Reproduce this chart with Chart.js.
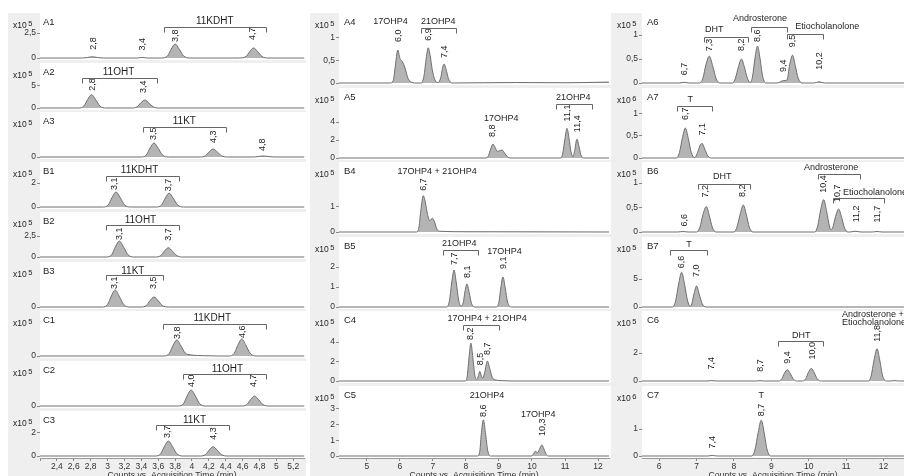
<!DOCTYPE html>
<html>
<head>
<meta charset="utf-8">
<script src="https://cdn.jsdelivr.net/npm/chart.js@4"></script>
<style>
  body { margin: 0; width: 904px; height: 476px; overflow: hidden; background: #fff; position: relative; }
  .col { position: absolute; top: 13px; height: 463px; background: #efefef; }
  canvas { position: absolute; }
</style>
</head>
<body>
<div class="col" style="left:8px;width:298px"></div>
<div class="col" style="left:310px;width:302px"></div>
<div class="col" style="left:612px;width:292px"></div>
<script>
// x axis ticks (retention time, min)
const col1XTicks = [2.2, 2.4, 2.6, 2.8, 3, 3.2, 3.4, 3.6, 3.8, 4, 4.2, 4.4, 4.6, 4.8, 5, 5.2];
const col1XLabels = ['', '2,4', '2,6', '2,8', '3', '3,2', '3,4', '3,6', '3,8', '4', '4,2', '4,4', '4,6', '4,8', '5', '5,2'];
const col2XTicks = [5, 6, 7, 8, 9, 10, 11, 12];
const col2XLabels = ['5', '6', '7', '8', '9', '10', '11', '12'];
const col3XTicks = [6, 7, 8, 9, 10, 11, 12];
const col3XLabels = ['6', '7', '8', '9', '10', '11', '12'];

// chromatogram traces: [time, counts] (counts in x10^5, x10^6 for A7 / C7)
const A1 = [[2.2,0],[2.7,0],[2.76,0.05],[2.82,0.12],[2.88,0.05],[2.95,0],[3.35,0],[3.41,0.06],[3.47,0],
  [3.64,0],[3.71,0.2],[3.755,0.9],[3.8,1.4],[3.85,0.87],[3.9,0.22],[3.97,0],
  [4.56,0],[4.64,0.15],[4.685,0.65],[4.73,1.0],[4.78,0.62],[4.83,0.15],[4.9,0],[5.33,0]];
const A2 = [[2.2,0],[2.66,0],[2.72,0.45],[2.765,1.95],[2.81,3.0],[2.86,1.86],[2.91,0.45],[2.98,0],
  [3.29,0],[3.35,0.27],[3.395,1.17],[3.44,1.8],[3.49,1.1],[3.54,0.27],[3.61,0],[5.33,0]];
const A3 = [[2.2,0],[3.4,0],[3.46,0.21],[3.505,0.91],[3.55,1.4],[3.6,0.87],[3.65,0.21],[3.72,0],
  [4.1,0],[4.16,0.12],[4.205,0.52],[4.25,0.8],[4.3,0.5],[4.35,0.12],[4.42,0],
  [4.74,0],[4.8,0.07],[4.84,0.1],[4.9,0.06],[4.97,0],[5.33,0]];
const B1 = [[2.2,0],[2.95,0],[3.01,0.19],[3.055,0.81],[3.1,1.25],[3.15,0.78],[3.2,0.19],[3.27,0],
  [3.58,0],[3.64,0.17],[3.685,0.75],[3.73,1.15],[3.78,0.71],[3.83,0.17],[3.9,0],[5.33,0]];
const B2 = [[2.2,0],[2.99,0],[3.05,0.29],[3.095,1.24],[3.14,1.9],[3.19,1.18],[3.24,0.29],[3.31,0],
  [3.57,0],[3.63,0.17],[3.675,0.72],[3.72,1.1],[3.77,0.68],[3.82,0.17],[3.89,0],[5.33,0]];
const B3 = [[2.2,0],[2.94,0],[3.0,0.26],[3.045,1.1],[3.09,1.7],[3.14,1.05],[3.19,0.26],[3.26,0],
  [3.4,0],[3.46,0.15],[3.505,0.65],[3.55,1.0],[3.6,0.62],[3.65,0.15],[3.72,0],[5.33,0]];
const C1 = [[2.2,0],[3.67,0],[3.73,0.24],[3.775,1.04],[3.82,1.6],[3.87,1.0],[3.92,0.3],[3.98,0.12],[4.15,0.03],[4.3,0],
  [4.44,0],[4.5,0.26],[4.545,1.1],[4.59,1.7],[4.64,1.05],[4.69,0.26],[4.76,0],[5.33,0]];
const C2 = [[2.2,0],[3.84,0],[3.9,0.24],[3.945,1.04],[3.99,1.6],[4.04,1.0],[4.09,0.24],[4.16,0],
  [4.59,0],[4.65,0.15],[4.695,0.65],[4.74,1.0],[4.79,0.62],[4.84,0.15],[4.91,0],[5.33,0]];
const C3 = [[2.2,0],[3.57,0],[3.63,0.2],[3.675,0.85],[3.72,1.3],[3.77,0.8],[3.82,0.2],[3.89,0],
  [4.1,0],[4.16,0.12],[4.205,0.52],[4.25,0.8],[4.3,0.5],[4.35,0.12],[4.42,0],[5.33,0]];

const A4 = [[4.16,0],[5.7,0],[5.8,0.05],[5.86,0.35],[5.94,0.73],[6.0,0.55],[6.08,0.47],[6.15,0.35],[6.25,0.1],[6.35,0.02],[6.45,0],
  [6.65,0],[6.73,0.15],[6.8,0.55],[6.86,0.78],[6.92,0.6],[6.98,0.3],[7.06,0.07],[7.15,0.01],
  [7.24,0.12],[7.29,0.32],[7.34,0.42],[7.4,0.3],[7.47,0.1],[7.58,0],[9.5,0.01],[11,0.005],[12.33,0.02]];
const A5 = [[4.16,0],[8.6,0],[8.68,0.25],[8.75,1.0],[8.82,1.55],[8.88,1.2],[8.95,0.75],[9.02,0.8],[9.09,0.9],[9.16,0.6],[9.25,0.15],[9.36,0],
  [10.86,0],[10.93,0.5],[11.0,2.2],[11.06,3.3],[11.12,2.2],[11.18,0.7],[11.24,0.12],
  [11.29,0.8],[11.36,2.1],[11.42,1.3],[11.48,0.35],[11.56,0],[12.33,0]];
const B4 = [[4.16,0],[6.5,0],[6.58,0.2],[6.64,0.9],[6.71,1.45],[6.77,1.2],[6.84,0.7],[6.91,0.45],[6.98,0.55],[7.04,0.45],[7.12,0.12],[7.22,0.03],[8,0.01],[12.33,0]];
const B5 = [[4.16,0],[7.42,0],[7.5,0.3],[7.57,1.2],[7.64,1.85],[7.71,1.2],[7.78,0.35],[7.85,0.05],
  [7.92,0.22],[7.97,0.75],[8.03,1.15],[8.1,0.72],[8.17,0.18],[8.27,0],
  [8.92,0],[9.0,0.25],[9.06,1.0],[9.12,1.5],[9.19,0.95],[9.26,0.25],[9.37,0],[12.33,0]];
const C4 = [[4.16,0],[7.98,0],[8.04,0.5],[8.1,2.6],[8.15,3.9],[8.21,2.4],[8.27,0.6],[8.33,0.15],[8.38,0.55],[8.42,1.0],[8.46,0.6],[8.51,0.3],
  [8.57,0.9],[8.65,2.05],[8.72,1.3],[8.8,0.35],[8.9,0.1],[9.1,0.03],[9.4,0],[12.33,0]];
const C5 = [[4.16,0],[8.35,0],[8.42,0.3],[8.47,1.5],[8.53,2.3],[8.59,1.5],[8.66,0.35],[8.75,0],
  [9.98,0],[10.05,0.15],[10.1,0.3],[10.17,0.22],[10.24,0.5],[10.3,0.7],[10.36,0.45],[10.43,0.1],[10.5,0],[12.33,0]];

const A6 = [[5.54,0],[6.55,0],[6.67,0.015],[6.8,0],[7.08,0],[7.17,0.1],[7.25,0.38],[7.34,0.56],[7.43,0.36],[7.52,0.1],[7.62,0],
  [7.96,0],[8.04,0.1],[8.12,0.34],[8.2,0.5],[8.28,0.33],[8.36,0.1],[8.44,0.01],
  [8.5,0.15],[8.56,0.5],[8.63,0.77],[8.7,0.5],[8.77,0.13],[8.86,0],[9.15,0],[9.33,0.05],[9.42,0.06],
  [9.49,0.38],[9.57,0.58],[9.64,0.36],[9.72,0.1],[9.82,0],[10.15,0],[10.28,0.025],[10.42,0],[12.55,0]];
const A7 = [[5.54,0],[6.46,0],[6.54,0.12],[6.62,0.45],[6.7,0.68],[6.78,0.44],[6.86,0.12],[6.95,0.01],
  [7.05,0.18],[7.1,0.3],[7.15,0.33],[7.22,0.2],[7.3,0.05],[7.4,0],[12.55,0]];
const B6 = [[5.54,0],[6.5,0],[6.63,0.01],[6.78,0],[7.0,0],[7.09,0.1],[7.17,0.35],[7.26,0.52],[7.34,0.34],[7.42,0.1],[7.52,0],
  [8.0,0],[8.08,0.1],[8.17,0.37],[8.25,0.55],[8.33,0.36],[8.41,0.1],[8.51,0],
  [10.16,0],[10.24,0.12],[10.32,0.45],[10.4,0.66],[10.48,0.42],[10.56,0.1],[10.6,0.05],
  [10.64,0.08],[10.72,0.32],[10.8,0.47],[10.88,0.3],[10.96,0.08],[11.05,0],
  [11.1,0],[11.25,0.015],[11.4,0],[11.7,0],[11.83,0.01],[11.96,0],[12.55,0]];
const B7 = [[5.54,0],[6.36,0],[6.44,1.1],[6.52,4.1],[6.6,6.2],[6.68,4.0],[6.76,1.1],[6.83,0.15],
  [6.86,0.3],[6.93,2.3],[7.0,3.75],[7.07,2.3],[7.15,0.6],[7.25,0],[12.55,0]];
const C6 = [[5.54,0],[7.28,0],[7.4,0.03],[7.54,0],[8.6,0],[8.7,0.02],[8.82,0],
  [9.2,0],[9.28,0.15],[9.35,0.55],[9.43,0.8],[9.51,0.52],[9.59,0.13],[9.7,0],
  [9.84,0],[9.92,0.16],[9.99,0.6],[10.07,0.9],[10.15,0.58],[10.23,0.15],[10.34,0],
  [11.6,0],[11.67,0.35],[11.75,1.5],[11.83,2.3],[11.9,1.5],[11.98,0.35],[12.08,0],[12.2,0],[12.3,0.03],[12.4,0],[12.55,0]];
const C7 = [[5.54,0],[7.3,0],[7.42,0.02],[7.55,0],[8.48,0],[8.56,0.22],[8.65,0.88],[8.73,1.33],[8.81,0.85],[8.89,0.22],[8.99,0],[12.55,0]];

// y axis tick values
const A1_yTicks = [0, 2.5], A2_yTicks = [0, 5], A3_yTicks = [0];
const B1_yTicks = [0, 2], B2_yTicks = [0, 2.5], B3_yTicks = [0];
const C1_yTicks = [0], C2_yTicks = [0], C3_yTicks = [0, 2];
const A4_yTicks = [0, 0.5, 1], A5_yTicks = [0, 2, 4], B4_yTicks = [0, 1];
const B5_yTicks = [0, 1, 2], C4_yTicks = [0, 2, 4], C5_yTicks = [0, 1, 2, 3];
const A6_yTicks = [0, 0.5, 1], A7_yTicks = [0, 0.5, 1], B6_yTicks = [0, 0.5, 1];
const B7_yTicks = [0, 5], C6_yTicks = [0, 2], C7_yTicks = [0, 1];

// peak labels: [text, retention time]
const A1_peaks = [['2,8', 2.83], ['3,4', 3.41], ['3,8', 3.8], ['4,7', 4.72]];
const A2_peaks = [['2,8', 2.82], ['3,4', 3.43]];
const A3_peaks = [['3,5', 3.55], ['4,3', 4.25], ['4,8', 4.84]];
const B1_peaks = [['3,1', 3.08], ['3,7', 3.72]];
const B2_peaks = [['3,1', 3.14], ['3,7', 3.72]];
const B3_peaks = [['3,1', 3.08], ['3,5', 3.54]];
const C1_peaks = [['3,8', 3.83], ['4,6', 4.6]];
const C2_peaks = [['4,0', 3.99], ['4,7', 4.73]];
const C3_peaks = [['3,7', 3.71], ['4,3', 4.26]];
const A4_peaks = [['6,0', 5.97], ['6,9', 6.87], ['7,4', 7.34]];
const A5_peaks = [['8,8', 8.8], ['11,1', 11.06], ['11,4', 11.37]];
const B4_peaks = [['6,7', 6.71]];
const B5_peaks = [['7,7', 7.65], ['8,1', 8.06], ['9,1', 9.13]];
const C4_peaks = [['8,2', 8.15], ['8,5', 8.43], ['8,7', 8.66]];
const C5_peaks = [['8,6', 8.53], ['10,3', 10.31]];
const A6_peaks = [['6,7', 6.67], ['7,3', 7.34], ['8,2', 8.2], ['8,6', 8.63], ['9,4', 9.33], ['9,5', 9.58], ['10,2', 10.3]];
const A7_peaks = [['6,7', 6.7], ['7,1', 7.17]];
const B6_peaks = [['6,6', 6.67], ['7,2', 7.23], ['8,2', 8.24], ['10,4', 10.39], ['10,7', 10.76], ['11,2', 11.27], ['11,7', 11.83]];
const B7_peaks = [['6,6', 6.6], ['7,0', 7.0]];
const C6_peaks = [['7,4', 7.39], ['8,7', 8.7], ['9,4', 9.42], ['10,0', 10.09], ['11,8', 11.83]];
const C7_peaks = [['7,4', 7.42], ['8,7', 8.73]];

// compound groups: [name, label time, bracket from, bracket to]
const A1_groups = [['11KDHT', 4.27, 3.67, 4.88]];
const A2_groups = [['11OHT', 3.13, 2.7, 3.58]];
const A3_groups = [['11KT', 3.91, 3.42, 4.4]];
const B1_groups = [['11KDHT', 3.38, 2.98, 3.85]];
const B2_groups = [['11OHT', 3.39, 2.98, 3.85]];
const B3_groups = [['11KT', 3.3, 2.98, 3.66]];
const C1_groups = [['11KDHT', 4.24, 3.66, 4.88]];
const C2_groups = [['11OHT', 4.42, 3.89, 4.88]];
const C3_groups = [['11KT', 4.03, 3.57, 4.44]];
const A4_groups = [['17OHP4', 5.72, null, null], ['21OHP4', 7.16, 6.65, 7.7]];
const A5_groups = [['21OHP4', 11.25, 10.74, 11.83], ['17OHP4', 9.07, null, null]];
const B4_groups = [['17OHP4 + 21OHP4', 7.13, null, null]];
const B5_groups = [['21OHP4', 7.8, 7.3, 8.37], ['17OHP4', 9.17, null, null]];
const C4_groups = [['17OHP4 + 21OHP4', 8.64, 7.92, 9.0]];
const C5_groups = [['21OHP4', 8.64, null, null], ['17OHP4', 10.19, null, null]];
const A6_groups = [['DHT', 7.47, 7.2, 8.38], ['Androsterone', 8.7, 8.46, 9.43], ['Etiocholanolone', 9.64, 9.43, 10.37]];
const A7_groups = [['T', 6.83, 6.48, 7.42]];
const B6_groups = [['DHT', 7.69, 7.05, 8.43], ['Androsterone', 10.6, 10.26, 11.38], ['Etiocholanolone', 10.92, 10.65, 12.02]];
const B7_groups = [['T', 6.8, 6.3, 7.28]];
const C6_groups = [['DHT', 9.8, 9.18, 10.38], ['Androsterone +\nEtiocholanolone', 10.89, null, null]];
const C7_groups = [['T', 8.73, null, null]];

const FONT = '"Liberation Sans", Arial, sans-serif';
Chart.defaults.font.family = FONT;

// layout of the three columns of stacked panels
const columns = [
  { left: 8, width: 298, axisW: 32, padR: 2, xMin: 2.2, xMax: 5.327, plotH: 45, groupFont: 10, idDx: 3,
    xTicks: col1XTicks, xLabels: col1XLabels,
    panels: [
      { id: 'A1', top: 13, data: A1, yMax: 4.5, yTicks: A1_yTicks, exp: '5', peaks: A1_peaks, gaps: [7, 7, 2, 8], groups: A1_groups, groupY: [[8, 14]] },
      { id: 'A2', top: 63, data: A2, yMax: 10.2, yTicks: A2_yTicks, exp: '5', peaks: A2_peaks, gaps: [4, 7], groups: A2_groups, groupY: [[9, 15]] },
      { id: 'A3', top: 112, data: A3, yMax: 4.5, yTicks: A3_yTicks, exp: '5', peaks: A3_peaks, gaps: [3, 6, 5], groups: A3_groups, groupY: [[9, 15]] },
      { id: 'B1', top: 162, data: B1, yMax: 3.75, yTicks: B1_yTicks, exp: '5', peaks: B1_peaks, gaps: [2, 2], groups: B1_groups, groupY: [[8, 14]] },
      { id: 'B2', top: 212, data: B2, yMax: 5.36, yTicks: B2_yTicks, exp: '5', peaks: B2_peaks, gaps: [1, 7], groups: B2_groups, groupY: [[8, 13]] },
      { id: 'B3', top: 262, data: B3, yMax: 4.5, yTicks: B3_yTicks, exp: '5', peaks: B3_peaks, gaps: [1, 8], groups: B3_groups, groupY: [[9, 13]] },
      { id: 'C1', top: 311, data: C1, yMax: 4.5, yTicks: C1_yTicks, exp: '5', peaks: C1_peaks, gaps: [1, 1], groups: C1_groups, groupY: [[7, 13]] },
      { id: 'C2', top: 361, data: C2, yMax: 4.5, yTicks: C2_yTicks, exp: '5', peaks: C2_peaks, gaps: [3, 9], groups: C2_groups, groupY: [[8, 13]] },
      { id: 'C3', top: 411, data: C3, yMax: 3.9, yTicks: C3_yTicks, exp: '5', peaks: C3_peaks, gaps: [3, 7], groups: C3_groups, groupY: [[9, 14]] }
    ] },
  { left: 310, width: 301, axisW: 29, padR: 2, xMin: 4.16, xMax: 12.33, plotH: 70, groupFont: 9, idDx: 5,
    xTicks: col2XTicks, xLabels: col2XLabels,
    panels: [
      { id: 'A4', top: 13, data: A4, yMax: 1.55, yTicks: A4_yTicks, exp: '5', peaks: A4_peaks, gaps: [8, 7, 6], groups: A4_groups, groupY: [[9, null], [9, 15]] },
      { id: 'A5', top: 88, data: A5, yMax: 7.8, yTicks: A5_yTicks, exp: '5', peaks: A5_peaks, gaps: [7, 7, 7], groups: A5_groups, groupY: [[10, 16], [31, null]] },
      { id: 'B4', top: 162, data: B4, yMax: 2.8, yTicks: B4_yTicks, exp: '5', peaks: B4_peaks, gaps: [5], groups: B4_groups, groupY: [[10, null]] },
      { id: 'B5', top: 237, data: B5, yMax: 3.5, yTicks: B5_yTicks, exp: '5', peaks: B5_peaks, gaps: [5, 6, 8], groups: B5_groups, groupY: [[7, 13], [15, null]] },
      { id: 'C4', top: 311, data: C4, yMax: 7.2, yTicks: C4_yTicks, exp: '5', peaks: C4_peaks, gaps: [3, 6, 6], groups: C4_groups, groupY: [[8, 14]] },
      { id: 'C5', top: 386, data: C5, yMax: 4.46, yTicks: C5_yTicks, exp: '5', peaks: C5_peaks, gaps: [3, 9], groups: C5_groups, groupY: [[10, null], [29, null]] }
    ] },
  { left: 612, width: 292, axisW: 30, padR: 0, xMin: 5.54, xMax: 12.55, plotH: 70, groupFont: 9, idDx: 5,
    xTicks: col3XTicks, xLabels: col3XLabels,
    panels: [
      { id: 'A6', top: 13, data: A6, yMax: 1.46, yTicks: A6_yTicks, exp: '5', peaks: A6_peaks, gaps: [7, 5, 8, 4, 8, 8, 12], groups: A6_groups, groupY: [[17, 24], [6, 14], [14, 21, 'left']] },
      { id: 'A7', top: 88, data: A7, yMax: 1.59, yTicks: A7_yTicks, exp: '6', peaks: A7_peaks, gaps: [8, 8], groups: A7_groups, groupY: [[12, 18]] },
      { id: 'B6', top: 162, data: B6, yMax: 1.43, yTicks: B6_yTicks, exp: '5', peaks: B6_peaks, gaps: [5, 9, 8, 7, 7, 9, 9], groups: B6_groups, groupY: [[15, 22], [6, 12], [31, 36, 'left']] },
      { id: 'B7', top: 237, data: B7, yMax: 12.5, yTicks: B7_yTicks, exp: '5', peaks: B7_peaks, gaps: [4, 9], groups: B7_groups, groupY: [[8, 13]] },
      { id: 'C6', top: 311, data: C6, yMax: 5.0, yTicks: C6_yTicks, exp: '5', peaks: C6_peaks, gaps: [11, 9, 6, 9, 7], groups: C6_groups, groupY: [[25, 30], [3.5, null, 'left']] },
      { id: 'C7', top: 386, data: C7, yMax: 2.6, yTicks: C7_yTicks, exp: '6', peaks: C7_peaks, gaps: [7, 4], groups: C7_groups, groupY: [[10, null]] }
    ] }
];

function annotator(col, p) {
  return {
    id: 'annot' + p.id,
    beforeDraw(chart) {
      const { ctx, chartArea, width } = chart;
      const base = chart.scales.y.getPixelForValue(0);
      ctx.save();
      ctx.fillStyle = '#fff';
      ctx.fillRect(chartArea.left, 0, width - chartArea.left, Math.round(base) + 2);
      ctx.restore();
    },
    afterDraw(chart) {
      const { ctx, chartArea } = chart;
      const xs = chart.scales.x, ys = chart.scales.y;
      ctx.save();
      ctx.fillStyle = '#1e1e1e';
      ctx.textBaseline = 'middle';

      // panel id and exponent
      ctx.textAlign = 'left';
      ctx.font = '9.5px ' + FONT;
      ctx.fillText(p.id, chartArea.left + col.idDx, 9);
      ctx.font = '8.5px ' + FONT;
      ctx.fillText('x10', 5, 13);
      const w = ctx.measureText('x10').width;
      ctx.font = '7.5px ' + FONT;
      ctx.fillText(p.exp, 5 + w + 1.5, 10.5);

      // peak retention-time labels, rotated
      ctx.font = '9px ' + FONT;
      p.peaks.forEach(([txt, t], i) => {
        const near = p.data.filter(d => Math.abs(d[0] - t) <= 0.1).map(d => d[1]);
        const h = Math.max(0, ...near);
        const px = xs.getPixelForValue(t);
        const py = ys.getPixelForValue(h) - p.gaps[i];
        ctx.save();
        ctx.translate(px, py);
        ctx.rotate(-Math.PI / 2);
        ctx.textAlign = 'left';
        ctx.fillText(txt, 0, 0);
        ctx.restore();
      });

      // compound names and brackets
      ctx.strokeStyle = '#666';
      ctx.lineWidth = 1;
      p.groups.forEach(([name, t, a, b], i) => {
        const [ly, by, align] = p.groupY[i];
        const lines = name.split('\n');
        ctx.font = col.groupFont + 'px ' + FONT;
        ctx.textAlign = align || 'center';
        lines.forEach((line, k) => ctx.fillText(line, xs.getPixelForValue(t), ly + k * 8));
        if (a !== null) {
          const x1 = Math.round(xs.getPixelForValue(a)) + 0.5;
          const x2 = Math.round(xs.getPixelForValue(b)) + 0.5;
          const y0 = by + 0.5;
          ctx.beginPath();
          ctx.moveTo(x1, y0 + 5);
          ctx.lineTo(x1, y0);
          ctx.lineTo(x2, y0);
          ctx.lineTo(x2, y0 + 5);
          ctx.stroke();
        }
      });
      ctx.restore();
    }
  };
}

columns.forEach(col => {
  col.panels.forEach((p, idx) => {
    const isBottom = idx === col.panels.length - 1;
    const axisH = isBottom ? 23 : 0;
    // bottom panels keep 2px between the trace baseline and the time axis line
    const drop = isBottom ? 2 : 0;
    const h = isBottom ? col.plotH + drop + axisH : col.plotH + 2;
    const yMin = -p.yMax * drop / col.plotH;
    const canvas = document.createElement('canvas');
    canvas.width = col.width;
    canvas.height = h;
    canvas.style.left = col.left + 'px';
    canvas.style.top = p.top + 'px';
    canvas.style.width = col.width + 'px';
    canvas.style.height = h + 'px';
    document.body.appendChild(canvas);

    new Chart(canvas, {
      type: 'line',
      data: {
        datasets: [{
          data: p.data.map(([x, y]) => ({ x, y })),
          borderColor: '#6e6e6e',
          borderWidth: 1,
          backgroundColor: '#b4b4b4',
          fill: 'origin',
          pointRadius: 0,
          cubicInterpolationMode: 'monotone',
          clip: false
        }]
      },
      options: {
        responsive: false,
        animation: false,
        events: [],
        layout: { padding: { top: 0, left: 0, right: col.padR, bottom: isBottom ? 0 : 2 } },
        plugins: { legend: { display: false }, tooltip: { enabled: false } },
        scales: {
          x: {
            type: 'linear',
            min: col.xMin,
            max: col.xMax,
            display: isBottom,
            afterBuildTicks: s => { s.ticks = col.xTicks.map(v => ({ value: v })); },
            afterFit: s => { s.height = axisH; s.paddingLeft = 0; s.paddingRight = 0; },
            ticks: {
              callback: (v, i) => col.xLabels[i],
              font: { size: 8.5 }, color: '#333', padding: 1, maxRotation: 0, autoSkip: false
            },
            grid: { drawOnChartArea: false, tickLength: 3, color: '#888' },
            border: { color: '#999' },
            title: {
              display: true, text: 'Counts vs. Acquisition Time (min)',
              font: { size: 8.7 }, color: '#333', padding: { top: 0, bottom: 0 }
            }
          },
          y: {
            min: yMin,
            max: p.yMax,
            afterBuildTicks: s => { s.ticks = p.yTicks.map(v => ({ value: v })); },
            afterFit: s => { s.width = col.axisW; s.paddingTop = 0; s.paddingBottom = 0; },
            ticks: {
              callback: v => String(v).replace('.', ','),
              font: { size: 8.5 }, color: '#333', padding: 1
            },
            grid: { drawOnChartArea: false, tickLength: 3, color: '#888' },
            border: { display: false }
          }
        }
      },
      plugins: [annotator(col, p)]
    });
  });
});
</script>
</body>
</html>
